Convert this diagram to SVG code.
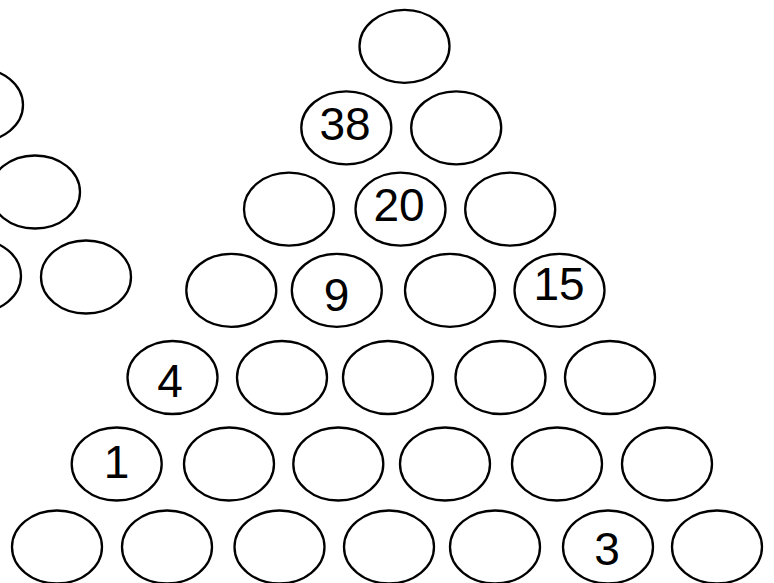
<svg xmlns="http://www.w3.org/2000/svg" width="774" height="583" viewBox="0 0 774 583">
<style>
.n ellipse{fill:#fff;stroke:#000;stroke-width:2.3}
.n text{font-family:"Liberation Sans",Arial,sans-serif;font-size:46px;fill:#000;text-anchor:middle}
</style>
<rect width="774" height="583" fill="#fff"/>
<g id="left-partial" class="n">
<g id="l1"><ellipse cx="-22" cy="105" rx="45" ry="36.5"/></g>
<g id="l2"><ellipse cx="35" cy="192" rx="45" ry="36.5"/></g>
<g id="l3a"><ellipse cx="-24" cy="276" rx="45" ry="36.5"/></g>
<g id="l3b"><ellipse cx="86" cy="277" rx="45" ry="36.5"/></g>
</g>
<g id="connectors"/>
<g id="pyramid" class="n">
<g id="r1c1"><ellipse cx="404.5" cy="46.3" rx="45" ry="36.5"/></g>
<g id="r2c1"><ellipse cx="346.3" cy="127.8" rx="45" ry="36.5"/><text x="345" y="139.5">38</text></g>
<g id="r2c2"><ellipse cx="456.2" cy="127.8" rx="45" ry="36.5"/></g>
<g id="r3c1"><ellipse cx="289" cy="209.2" rx="45" ry="36.5"/></g>
<g id="r3c2"><ellipse cx="400.5" cy="209.2" rx="45" ry="36.5"/><text x="399" y="220.7">20</text></g>
<g id="r3c3"><ellipse cx="510.2" cy="209.2" rx="45" ry="36.5"/></g>
<g id="r4c1"><ellipse cx="231.3" cy="290.3" rx="45" ry="36.5"/></g>
<g id="r4c2"><ellipse cx="336.8" cy="290.3" rx="45" ry="36.5"/><text x="336.5" y="310.5">9</text></g>
<g id="r4c3"><ellipse cx="450" cy="290.3" rx="45" ry="36.5"/></g>
<g id="r4c4"><ellipse cx="559.5" cy="290.3" rx="45" ry="36.5"/><text x="559" y="300">15</text></g>
<g id="r5c1"><ellipse cx="172.5" cy="377.5" rx="45" ry="36.5"/><text x="170" y="397">4</text></g>
<g id="r5c2"><ellipse cx="282" cy="377.5" rx="45" ry="36.5"/></g>
<g id="r5c3"><ellipse cx="388" cy="377.5" rx="45" ry="36.5"/></g>
<g id="r5c4"><ellipse cx="500.5" cy="377.5" rx="45" ry="36.5"/></g>
<g id="r5c5"><ellipse cx="610" cy="377.5" rx="45" ry="36.5"/></g>
<g id="r6c1"><ellipse cx="116.7" cy="464" rx="45" ry="36.5"/><text x="116.5" y="478">1</text></g>
<g id="r6c2"><ellipse cx="229" cy="464" rx="45" ry="36.5"/></g>
<g id="r6c3"><ellipse cx="338.3" cy="464" rx="45" ry="36.5"/></g>
<g id="r6c4"><ellipse cx="445" cy="464" rx="45" ry="36.5"/></g>
<g id="r6c5"><ellipse cx="557" cy="464" rx="45" ry="36.5"/></g>
<g id="r6c6"><ellipse cx="667" cy="464" rx="45" ry="36.5"/></g>
<g id="r7c1"><ellipse cx="57" cy="547" rx="45" ry="36.5"/></g>
<g id="r7c2"><ellipse cx="167" cy="547" rx="45" ry="36.5"/></g>
<g id="r7c3"><ellipse cx="279.5" cy="547" rx="45" ry="36.5"/></g>
<g id="r7c4"><ellipse cx="389" cy="547" rx="45" ry="36.5"/></g>
<g id="r7c5"><ellipse cx="495" cy="547" rx="45" ry="36.5"/></g>
<g id="r7c6"><ellipse cx="608" cy="547" rx="45" ry="36.5"/><text x="607" y="565">3</text></g>
<g id="r7c7"><ellipse cx="717" cy="547" rx="45" ry="36.5"/></g>
</g>
</svg>
